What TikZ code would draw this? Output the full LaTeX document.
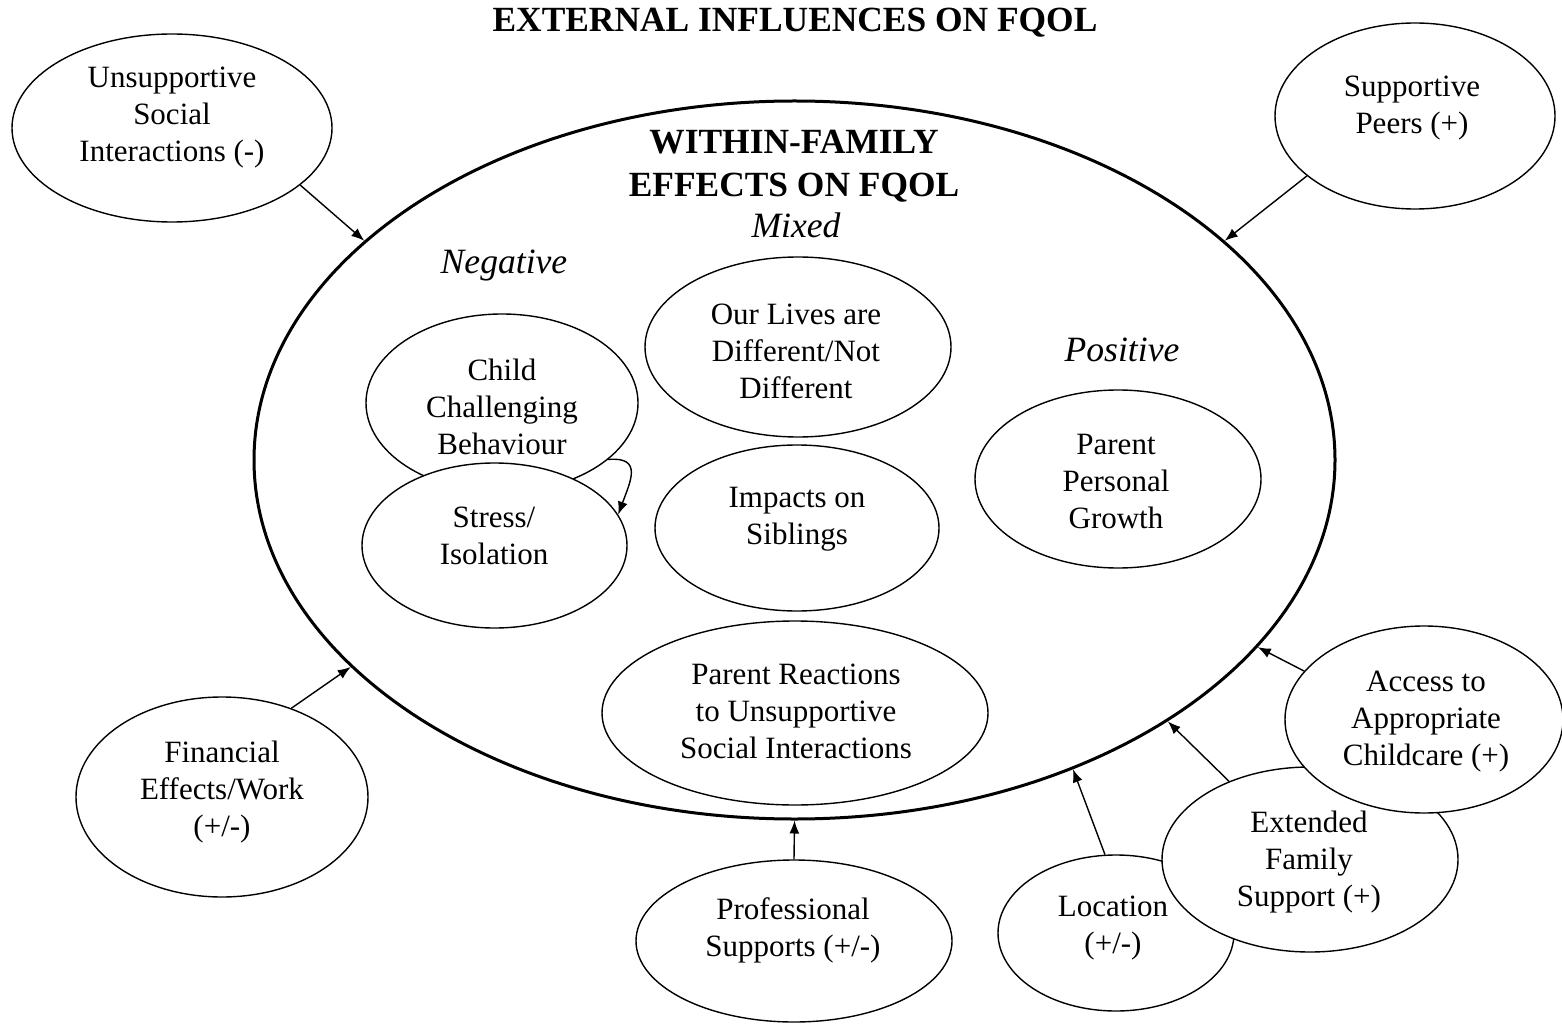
\documentclass[tikz,border=0pt]{standalone}
\usepackage{fontspec}
\setmainfont{Liberation Serif}
\usetikzlibrary{shapes.geometric,arrows.meta}
\begin{document}
\begin{tikzpicture}[x=0.5pt,y=-0.5pt,
 bub/.style={ellipse, draw, line width=0.7pt, fill=white, inner sep=0pt},
 txt/.style={font=\fontsize{15.5}{18.5}\selectfont, align=center, inner sep=0pt},
 hd/.style={font=\fontsize{17.7}{21.5}\selectfont\bfseries, align=center, inner sep=0pt},
 cat/.style={font=\fontsize{17.8}{21}\selectfont\itshape, inner sep=0pt, anchor=base},
 arr/.style={-{Latex[length=6.5pt,width=5pt]}, line width=0.7pt}]
\useasboundingbox (0,0) rectangle (1562,1026);

\node[hd, anchor=base] (title) at (795,32) {EXTERNAL INFLUENCES ON FQOL};

\node[ellipse, draw, line width=1.5pt, minimum width=540.5pt, minimum height=359pt, inner sep=0pt] (big) at (794.5,460) {};
\node[hd] (bigt) at (794,166) {WITHIN-FAMILY\\EFFECTS ON FQOL};
\node[cat] (neg) at (504,274) {Negative};
\node[cat] (mix) at (796,238) {Mixed};
\node[cat] (pos) at (1122,362) {Positive};

% inner bubbles
\node[bub, minimum width=136pt, minimum height=89pt] (child) at (502,403) {};
\node[txt] (childt) at (502,407) {Child\\Challenging\\Behaviour};
\node[bub, minimum width=132.5pt, minimum height=82.5pt] (stress) at (494.5,545.5) {};
\node[txt] (stresst) at (494,536) {Stress/\\Isolation};
\node[bub, minimum width=153pt, minimum height=90pt] (lives) at (798,347) {};
\node[txt] (livest) at (796,351) {Our Lives are\\Different/Not\\Different};
\node[bub, minimum width=142pt, minimum height=83pt] (sib) at (797,528) {};
\node[txt] (sibt) at (797,519.5) {Impacts on\\Siblings};
\node[bub, minimum width=143pt, minimum height=89pt] (growth) at (1118,479) {};
\node[txt] (growtht) at (1116,482) {Parent\\Personal\\Growth};
\node[bub, minimum width=193pt, minimum height=92pt] (react) at (795,713) {};
\node[txt] (reactt) at (796,711) {Parent Reactions\\to Unsupportive\\Social Interactions};

% outer bubbles
\node[bub, minimum width=160pt, minimum height=94pt] (uns) at (172,128) {};
\node[txt] (unst) at (172,118) {Unsupportive\\Social\\Interactions (-)};
\node[bub, minimum width=140pt, minimum height=93pt] (peers) at (1415,116) {};
\node[txt] (peerst) at (1412,108) {Supportive\\Peers (+)};
\node[bub, minimum width=146pt, minimum height=100pt] (fin) at (222,797) {};
\node[txt] (fint) at (222,792) {Financial\\Effects/Work\\(+/-)};
\node[bub, minimum width=158pt, minimum height=81pt] (prof) at (794,941) {};
\node[txt] (proft) at (793,930.5) {Professional\\Supports (+/-)};
\node[bub, minimum width=118pt, minimum height=78pt] (loc) at (1116,933) {};
\node[txt] (loct) at (1113,928) {Location\\(+/-)};
\node[bub, minimum width=148pt, minimum height=92.5pt] (ext) at (1310,859.5) {};
\node[txt] (extt) at (1309,862) {Extended\\Family\\Support (+)};
\node[bub, minimum width=139pt, minimum height=93.5pt] (acc) at (1424,719.5) {};
\node[txt] (acct) at (1426,722) {Access to\\Appropriate\\Childcare (+)};

% connectors
\draw[arr] (uns.-24) -- (big.153.1);
\draw[arr] (peers.209) -- (big.27.4);
\draw[arr] (fin.52.9) -- (big.205.1);
\draw[arr] (prof.north) -- (big.south);
\draw[arr] (loc.98.7) -- (big.-48.9);
\draw[arr] (ext.136.5) -- (big.-35.2);
\draw[arr] (acc.158.4) -- (big.-22);
\draw[arr] (child.-28) to[out=5,in=70,looseness=1.6] (stress.14);
\end{tikzpicture}
\end{document}
